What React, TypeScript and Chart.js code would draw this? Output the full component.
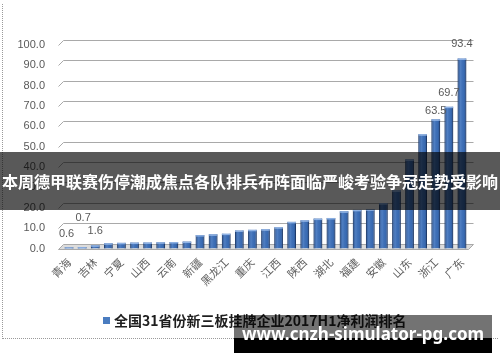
import React, { useEffect, useRef } from "react";
import Chart from "chart.js/auto";

const provinces = [
  "青海", "西藏", "吉林", "甘肃", "宁夏", "海南", "山西", "广西", "云南", "内蒙古",
  "新疆", "贵州", "黑龙江", "辽宁", "重庆", "天津", "江西", "河北", "陕西", "四川",
  "湖北", "河南", "福建", "湖南", "安徽", "上海", "山东", "江苏", "浙江", "北京", "广东",
];
const profits = [
  0.6, 0.7, 1.6, 2.6, 2.8, 2.9, 3.0, 3.1, 3.2, 3.4,
  6.6, 7.0, 7.3, 8.9, 9.2, 9.5, 10.5, 13.1, 13.9, 14.7,
  15.0, 18.3, 19.0, 19.3, 22.3, 28.6, 43.8, 56.2, 63.5, 69.7, 93.4,
];
const labelledIndices = [0, 1, 2, 28, 29, 30];
const seriesName = "全国31省份新三板挂牌企业2017H1净利润排名";
const bannerText = "本周德甲联赛伤停潮成焦点各队排兵布阵面临严峻考验争冠走势受影响";
const watermarkText = "www.cnzh-simulator-pg.com";
const yMin = 0;
const yMax = 100;
const yStep = 10;

const BAR_COLOR = "#3a6db5";

const wallPlugin = {
  id: "wall3d",
  beforeDatasetsDraw(chart: any) {
    const { ctx, chartArea } = chart;
    const y = chart.scales.y;
    const l = chartArea.left;
    const r = chartArea.right;
    const d = 5;
    ctx.save();
    const y0 = y.getPixelForValue(0);
    ctx.fillStyle = "#dcdcdc";
    ctx.beginPath();
    ctx.moveTo(l - 4, y0 + 1);
    ctx.lineTo(l + 1, y0 - d + 1);
    ctx.lineTo(r + 5, y0 - d + 1);
    ctx.lineTo(r, y0 + 1);
    ctx.closePath();
    ctx.fill();
    ctx.strokeStyle = "#a9a9a9";
    ctx.lineWidth = 1;
    y.ticks.forEach((t: any) => {
      const py = Math.round(y.getPixelForValue(t.value)) + 0.5;
      ctx.beginPath();
      ctx.moveTo(l - 4, py);
      ctx.lineTo(l + 1, py - d);
      ctx.lineTo(r + 5, py - d);
      if (t.value === 0) {
        ctx.lineTo(r, py);
        ctx.lineTo(l - 4, py);
      }
      ctx.stroke();
    });
    ctx.restore();
  },
};

const barShadePlugin = {
  id: "barShade",
  afterDatasetsDraw(chart: any) {
    const { ctx } = chart;
    const meta = chart.getDatasetMeta(0);
    ctx.save();
    meta.data.forEach((bar: any) => {
      const w = bar.width;
      const x0 = bar.x - w / 2;
      const g = ctx.createLinearGradient(x0, 0, x0 + w, 0);
      g.addColorStop(0, "rgba(20,45,90,0.55)");
      g.addColorStop(0.35, "rgba(120,160,220,0.35)");
      g.addColorStop(0.7, "rgba(60,100,170,0.1)");
      g.addColorStop(1, "rgba(15,35,75,0.6)");
      ctx.fillStyle = g;
      ctx.fillRect(x0, bar.y, w, bar.base - bar.y);
      ctx.fillStyle = "rgba(150,185,235,0.9)";
      ctx.fillRect(x0, bar.y, w, Math.min(1.5, bar.base - bar.y));
    });
    ctx.restore();
  },
};

const dataLabelOffsets: Record<number, [number, number]> = {
  0: [-2.5, 13],
  1: [1, 29],
  2: [0, 14],
  28: [0, 8],
  29: [0, 14],
  30: [0, 14],
};

const dataLabelPlugin = {
  id: "dataLabels",
  afterDatasetsDraw(chart: any) {
    const { ctx } = chart;
    const meta = chart.getDatasetMeta(0);
    ctx.save();
    ctx.font = "11px 'Liberation Sans', Arial, sans-serif";
    ctx.fillStyle = "#595959";
    ctx.textAlign = "center";
    ctx.textBaseline = "middle";
    labelledIndices.forEach((i) => {
      const bar = meta.data[i];
      const [dx, dy] = dataLabelOffsets[i] || [0, 10];
      ctx.fillText(profits[i].toFixed(1), bar.x + dx, bar.y - dy);
    });
    ctx.restore();
  },
};

export default function App() {
  const canvasRef = useRef<HTMLCanvasElement | null>(null);

  useEffect(() => {
    if (!canvasRef.current) return;
    const chart = new Chart(canvasRef.current, {
      type: "bar",
      data: {
        labels: provinces,
        datasets: [
          {
            label: seriesName,
            data: profits,
            backgroundColor: BAR_COLOR,
            borderColor: "#244679",
            borderWidth: 1,
            barPercentage: 0.66,
            categoryPercentage: 1,
          },
        ],
      },
      options: {
        animation: false,
        responsive: false,
        devicePixelRatio: 1,
        layout: { padding: { left: 0, top: 45, right: 31.5, bottom: 53.5 } },
        plugins: {
          legend: { display: false },
          tooltip: { enabled: false },
        },
        scales: {
          x: {
            grid: { display: false, drawTicks: false },
            border: { display: false },
            ticks: {
              autoSkip: false,
              minRotation: 45,
              maxRotation: 45,
              padding: 7,
              color: "#5e5e5e",
              font: { family: "'Noto Sans CJK SC', sans-serif", size: 11 },
              callback: (_v: any, idx: number) => (idx % 2 === 0 ? provinces[idx] : ""),
            },
            afterFit: (scale: any) => {
              scale.height = 60;
            },
          },
          y: {
            min: yMin,
            max: yMax,
            grid: { display: false, drawTicks: false },
            border: { display: false },
            ticks: {
              stepSize: yStep,
              padding: 17.5,
              color: "#595959",
              font: { family: "'Liberation Sans', Arial, sans-serif", size: 11 },
              callback: (v: any) => Number(v).toFixed(1),
            },
            afterFit: (scale: any) => {
              scale.width = 62.5;
            },
          },
        },
      },
      plugins: [wallPlugin, barShadePlugin, dataLabelPlugin],
    });
    return () => chart.destroy();
  }, []);

  return (
    <div
      style={{
        position: "fixed",
        left: 0,
        top: 0,
        width: 500,
        height: 362,
        background: "#ffffff",
        overflow: "hidden",
      }}
    >
      <div
        style={{
          position: "absolute",
          left: 2,
          top: 4,
          width: 495,
          height: 334,
          borderLeft: "1px dotted #9a9a9a",
          borderBottom: "1px dotted #9a9a9a",
        }}
      />
      <canvas
        ref={canvasRef}
        width={500}
        height={362}
        style={{ position: "absolute", left: 0, top: 0, width: 500, height: 362 }}
      />
      <div
        style={{
          position: "absolute",
          left: 103,
          top: 310,
          height: 20,
          display: "flex",
          alignItems: "center",
          whiteSpace: "nowrap",
        }}
      >
        <span
          style={{ display: "inline-block", width: 7, height: 7, background: "#4a7cc0", marginRight: 4 }}
        />
        <span
          style={{
            fontFamily: "'Noto Sans CJK SC', sans-serif",
            fontWeight: 700,
            fontSize: 14,
            color: "#1e1e1e",
          }}
        >
          {seriesName}
        </span>
      </div>
      <div
        style={{
          position: "absolute",
          left: 0,
          top: 152,
          width: 500,
          height: 58,
          background: "rgba(0,0,0,0.65)",
          color: "#ffffff",
          fontFamily: "'Noto Sans CJK SC', sans-serif",
          fontWeight: 700,
          fontSize: 16,
          lineHeight: "58px",
          textAlign: "center",
          whiteSpace: "nowrap",
          overflow: "hidden",
        }}
      >
        {bannerText}
      </div>
      <div
        style={{
          position: "absolute",
          left: 234,
          top: 315,
          width: 258,
          height: 38,
          background: "linear-gradient(to bottom, rgba(0,0,0,0.55) 0%, rgba(0,0,0,0.55) 60%, #000 60%, #000 100%)",
          color: "#ffffff",
          fontFamily: "'Noto Sans', 'Open Sans', sans-serif",
          fontWeight: 700,
          fontSize: 17,
          lineHeight: "38px",
          textAlign: "center",
          whiteSpace: "nowrap",
        }}
      >
        {watermarkText}
      </div>
    </div>
  );
}
